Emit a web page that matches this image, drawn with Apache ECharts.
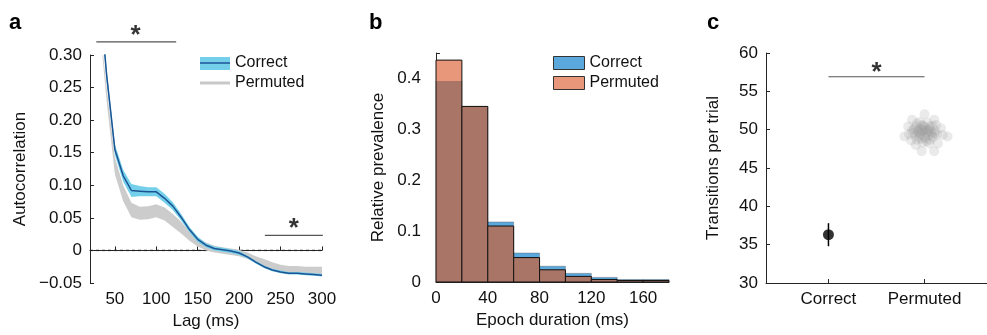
<!DOCTYPE html>
<html>
<head>
<meta charset="utf-8">
<script src="https://cdn.jsdelivr.net/npm/echarts@6/dist/echarts.min.js"></script>
<style>
  html, body { margin: 0; padding: 0; background: #fff; }
  #chart { width: 987px; height: 335px; }
</style>
</head>
<body>
<div id="chart"></div>
<script>
// --- panel a: autocorrelation vs lag ---
const lags = [35, 40, 50, 60, 70, 80, 90, 100, 110, 120, 130, 140, 150, 160, 170, 180, 190, 200, 210, 220, 230, 240, 250, 260, 270, 280, 290, 300]
const lagTicks = [50, 100, 150, 200, 250, 300]
const correctMean = [0.345, 0.270, 0.155, 0.115, 0.092, 0.091, 0.090, 0.090, 0.080, 0.068, 0.051, 0.032, 0.017, 0.008, 0.003, 0.001, -0.001, -0.004, -0.010, -0.018, -0.025, -0.030, -0.033, -0.035, -0.035, -0.036, -0.037, -0.038]
const correctErr = [0.010, 0.009, 0.008, 0.009, 0.010, 0.008, 0.007, 0.007, 0.007, 0.006, 0.005, 0.004, 0.004, 0.003, 0.003, 0.003, 0.003, 0.003, 0.002, 0.002, 0.002, 0.002, 0.002, 0.002, 0.002, 0.002, 0.002, 0.002]
const permutedMean = [0.305, 0.240, 0.130, 0.088, 0.062, 0.057, 0.058, 0.061, 0.056, 0.046, 0.035, 0.022, 0.013, 0.006, 0.002, 0.000, -0.002, -0.004, -0.008, -0.014, -0.019, -0.024, -0.028, -0.030, -0.030, -0.031, -0.031, -0.031]
const permutedErr = [0.006, 0.010, 0.013, 0.012, 0.011, 0.010, 0.010, 0.010, 0.010, 0.010, 0.009, 0.007, 0.007, 0.006, 0.005, 0.005, 0.005, 0.005, 0.005, 0.005, 0.006, 0.006, 0.006, 0.006, 0.006, 0.006, 0.006, 0.006]

// --- panel b: epoch duration histogram ---
const binEdges = [0, 20, 40, 60, 80, 100, 120, 140, 160, 180]
const correctHist = [0.395, 0.345, 0.118, 0.057, 0.031, 0.017, 0.009, 0.005, 0.005]
const permutedHist = [0.436, 0.345, 0.110, 0.048, 0.024, 0.011, 0.005, 0.003, 0.003]

// --- panel c: transitions per trial ---
const groupNames = ['Correct', 'Permuted']
const correctTransitions = [36.3]
const correctRange = [34.8, 37.8]
const permutedRuns = [
  [2.00, 52.0], [1.87, 51.3], [2.10, 51.3], [1.79, 49.1], [2.24, 49.1], [1.97, 47.2], [2.10, 47.2], [1.91, 48.0],
  [1.83, 50.4], [2.17, 50.2], [2.14, 48.2], [1.86, 48.6], [1.92, 50.8], [1.97, 50.6], [2.03, 50.9], [2.08, 50.5],
  [1.89, 50.1], [1.95, 50.2], [2.00, 50.3], [2.05, 50.1], [2.11, 49.9], [1.88, 49.6], [1.93, 49.7], [1.98, 49.8],
  [2.02, 49.6], [2.07, 49.7], [2.13, 49.4], [1.90, 49.2], [1.95, 49.3], [2.00, 49.1], [2.04, 49.3], [2.09, 49.0],
  [1.92, 48.7], [1.97, 48.8], [2.02, 48.5], [2.06, 48.7], [2.00, 49.9], [1.96, 49.5], [2.04, 49.8], [1.99, 50.5],
  [2.01, 48.9], [1.94, 49.0], [2.06, 50.4], [1.91, 50.4], [2.10, 49.5], [1.98, 48.3], [2.03, 50.0], [1.97, 50.0],
  [2.08, 49.2], [1.93, 49.9], [2.12, 50.6], [1.87, 49.9], [2.19, 49.3], [1.84, 49.4], [2.05, 48.2], [1.95, 51.0]
]

const FONT = '"Liberation Sans", Arial, Helvetica, sans-serif'
const AXIS = '#262626'
const TEXT = '#111'

const chart = echarts.init(document.getElementById('chart'))

const axisLine = { show: true, lineStyle: { color: AXIS, width: 1 } }
const tickIn = { show: true, inside: true, length: 4, lineStyle: { color: AXIS } }
const label = { color: TEXT, fontSize: 17, fontFamily: FONT }
const nameStyle = { color: TEXT, fontSize: 17, fontFamily: FONT }
const letterStyle = { fontSize: 22, fontWeight: 'bold', color: '#000', fontFamily: FONT }

const zip = (xs, ys) => xs.map((x, i) => [x, ys[i]])

const fmtA = (v) => {
  if (Math.abs(v) < 1e-9) return '0'
  return (v < 0 ? '\u2212' : '') + Math.abs(v).toFixed(2)
}

function histRect(api, x0, x1, h) {
  const a = api.coord([x0, h])
  const b = api.coord([x1, 0])
  return { x: a[0], y: a[1], width: b[0] - a[0], height: b[1] - a[1] }
}

// shaded mean +/- error band, drawn as one polygon
const bandSeries = (name, mean, err, color, z) => ({
  name, type: 'custom', coordinateSystem: 'cartesian2d', xAxisIndex: 0, yAxisIndex: 0,
  clip: true, silent: true, z, itemStyle: { color },
  encode: { x: 0, y: [1, 2] },
  data: lags.map((x, i) => [x, mean[i] - err[i], mean[i] + err[i]]),
  renderItem: (params, api) => {
    if (params.dataIndex !== 0) return null
    const n = params.dataInsideLength
    const up = []
    const dn = []
    for (let i = 0; i < n; i++) {
      up.push(api.coord([api.value(0, i), api.value(2, i)]))
      dn.push(api.coord([api.value(0, i), api.value(1, i)]))
    }
    return { type: 'polygon', shape: { points: up.concat(dn.reverse()) }, style: { fill: color } }
  },
})

const star = (xi, yi, pos) => ({
  type: 'scatter', xAxisIndex: xi, yAxisIndex: yi, data: [pos], symbolSize: 1, silent: true,
  itemStyle: { color: 'transparent' }, clip: false, z: 10,
  label: { show: true, position: 'inside', formatter: '*', fontSize: 26, fontWeight: 'bold', color: '#000', fontFamily: FONT },
})
const sigLine = (xi, yi, pts) => ({
  type: 'line', xAxisIndex: xi, yAxisIndex: yi, data: pts, symbol: 'none', silent: true, clip: false,
  lineStyle: { color: '#555', width: 1.2 }, z: 10,
})

const option = {
  animation: false,
  textStyle: { fontFamily: FONT },
  title: [
    { text: 'a', left: 9, top: 12, padding: 0, textStyle: letterStyle },
    { text: 'b', left: 369, top: 12, padding: 0, textStyle: letterStyle },
    { text: 'c', left: 707, top: 12, padding: 0, textStyle: letterStyle },
  ],
  legend: [
    {
      left: 200, top: 55, padding: 0, orient: 'vertical', itemWidth: 30, itemHeight: 13, itemGap: 4, selectedMode: false,
      formatter: (n) => n.split(':')[1],
      textStyle: { fontSize: 16, color: TEXT, fontFamily: FONT },
      data: [
        { name: 'a:Correct', icon: 'path://M0,6 L30,6 L30,7.5 L0,7.5 Z', itemStyle: { color: '#1b5494' } },
        { name: 'a:Permuted', icon: 'path://M0,5 L30,5 L30,8 L0,8 Z', itemStyle: { color: '#c8c8c8' } },
      ],
    },
    {
      left: 553, top: 55, padding: 0, orient: 'vertical', itemWidth: 31, itemHeight: 13, itemGap: 4, selectedMode: false,
      formatter: (n) => n.split(':')[1],
      textStyle: { fontSize: 16, color: TEXT, fontFamily: FONT },
      data: [
        { name: 'b:Correct', icon: 'rect', itemStyle: { color: '#5ba8dc', borderColor: '#333', borderWidth: 1 } },
        { name: 'b:Permuted', icon: 'rect', itemStyle: { color: '#e9977a', borderColor: '#333', borderWidth: 1 } },
      ],
    },
  ],
  graphic: [
    { type: 'rect', left: 200, top: 57, shape: { width: 30, height: 13 }, style: { fill: '#74d0ea' }, z: 0 },
  ],
  grid: [
    { left: 90, top: 55, width: 232, height: 228 },
    { left: 436, top: 53, width: 233, height: 229 },
    { left: 766, top: 53, width: 223, height: 230 },
  ],
  xAxis: [
    {
      gridIndex: 0, type: 'value', min: 20, max: 300, name: 'Lag (ms)', nameLocation: 'middle', nameGap: 30,
      nameTextStyle: nameStyle, axisLine, splitLine: { show: false },
      axisTick: { ...tickIn, customValues: lagTicks },
      axisLabel: { ...label, margin: 8, customValues: lagTicks },
    },
    {
      gridIndex: 1, type: 'value', min: 0, max: 180, interval: 40, name: 'Epoch duration (ms)', nameLocation: 'middle',
      nameGap: 30, nameTextStyle: nameStyle, axisLine, splitLine: { show: false }, axisTick: { show: false },
      axisLabel: { ...label, margin: 8, showMaxLabel: false },
    },
    {
      gridIndex: 2, type: 'value', min: 0.35, max: 2.65, axisLine, splitLine: { show: false },
      axisTick: { ...tickIn, customValues: [1, 2] },
      axisLabel: { ...label, margin: 8, customValues: [1, 2], formatter: (v) => groupNames[Math.round(v) - 1] },
    },
  ],
  yAxis: [
    {
      gridIndex: 0, type: 'value', min: -0.05, max: 0.30, interval: 0.05, name: 'Autocorrelation',
      nameLocation: 'middle', nameGap: 61, nameTextStyle: nameStyle, axisLine, splitLine: { show: false },
      axisTick: tickIn, axisLabel: { ...label, margin: 8, formatter: fmtA },
    },
    {
      gridIndex: 1, type: 'value', min: 0, max: 0.45, interval: 0.05, name: 'Relative prevalence',
      nameLocation: 'middle', nameGap: 49, nameTextStyle: nameStyle, axisLine, splitLine: { show: false },
      axisTick: tickIn,
      axisLabel: { ...label, margin: 15, formatter: (v) => (Math.round(v * 20) % 2 === 0 ? String(+v.toFixed(1)) : '') },
    },
    {
      gridIndex: 2, type: 'value', min: 30, max: 60, interval: 5, name: 'Transitions per trial',
      nameLocation: 'middle', nameGap: 44, nameTextStyle: nameStyle, axisLine, splitLine: { show: false },
      axisTick: tickIn, axisLabel: { ...label, margin: 8 },
    },
  ],
  series: [
    // panel a
    {
      name: 'a:zero', type: 'line', xAxisIndex: 0, yAxisIndex: 0, data: [[20, 0], [300, 0]], symbol: 'none',
      silent: true, lineStyle: { color: '#222', width: 1.3, type: [3, 3] }, z: 1,
    },
    bandSeries('a:Permuted', permutedMean, permutedErr, '#cccccc', 2),
    bandSeries('a:CorrectBand', correctMean, correctErr, '#74d0ea', 3),
    {
      name: 'a:Correct', type: 'line', xAxisIndex: 0, yAxisIndex: 0, data: zip(lags, correctMean), symbol: 'none',
      silent: true, lineStyle: { color: '#1b5494', width: 1.5 }, itemStyle: { color: '#1b5494' }, z: 4,
    },
    sigLine(0, 0, [[27.6, 0.32], [124, 0.32]]),
    star(0, 0, [75, 0.329]),
    sigLine(0, 0, [[231, 0.023], [301, 0.023]]),
    star(0, 0, [266, 0.033]),

    // panel b
    {
      name: 'b:Correct', type: 'custom', coordinateSystem: 'cartesian2d', xAxisIndex: 1, yAxisIndex: 1,
      itemStyle: { color: '#5ba8dc' }, encode: { x: [0, 1], y: 2 },
      data: correctHist.map((v, i) => [binEdges[i], binEdges[i + 1], v]),
      renderItem: (params, api) => ({
        type: 'rect',
        shape: histRect(api, api.value(0), api.value(1), api.value(2)),
        style: { fill: '#5ba8dc', stroke: 'rgba(80,80,80,0.35)', lineWidth: 1 },
      }),
    },
    {
      name: 'b:Permuted', type: 'custom', coordinateSystem: 'cartesian2d', xAxisIndex: 1, yAxisIndex: 1,
      itemStyle: { color: '#e9977a' }, encode: { x: [0, 1], y: 2 },
      data: permutedHist.map((v, i) => [binEdges[i], binEdges[i + 1], v, correctHist[i]]),
      renderItem: (params, api) => {
        const x0 = api.value(0), x1 = api.value(1), p = api.value(2), c = api.value(3)
        return {
          type: 'group',
          children: [
            { type: 'rect', shape: histRect(api, x0, x1, p), style: { fill: '#e9977a' } },
            { type: 'rect', shape: histRect(api, x0, x1, Math.min(p, c)), style: { fill: '#a87566' } },
            { type: 'rect', shape: histRect(api, x0, x1, p), style: { fill: 'none', stroke: '#111', lineWidth: 1 } },
          ],
        }
      },
    },

    // panel c
    {
      name: 'c:range', type: 'custom', coordinateSystem: 'cartesian2d', xAxisIndex: 2, yAxisIndex: 2,
      encode: { x: 0, y: [1, 2] }, data: [[1, correctRange[0], correctRange[1]]],
      renderItem: (params, api) => {
        const lo = api.coord([api.value(0), api.value(1)])
        const hi = api.coord([api.value(0), api.value(2)])
        return {
          type: 'line', shape: { x1: lo[0], y1: lo[1], x2: hi[0], y2: hi[1] },
          style: { stroke: '#000', lineWidth: 1.5 },
        }
      },
    },
    {
      name: 'c:Correct', type: 'scatter', xAxisIndex: 2, yAxisIndex: 2, data: correctTransitions.map((v) => [1, v]),
      symbolSize: 11, itemStyle: { color: '#000' }, silent: true, z: 5,
    },
    {
      name: 'c:Permuted', type: 'scatter', xAxisIndex: 2, yAxisIndex: 2, data: permutedRuns,
      symbolSize: 10, itemStyle: { color: 'rgba(150,150,150,0.25)' }, silent: true,
    },
    sigLine(2, 2, [[1, 56.9], [2, 56.9]]),
    star(2, 2, [1.5, 57.45]),
  ],
}

chart.setOption(option)
window.addEventListener('resize', () => chart.resize())
</script>
</body>
</html>
